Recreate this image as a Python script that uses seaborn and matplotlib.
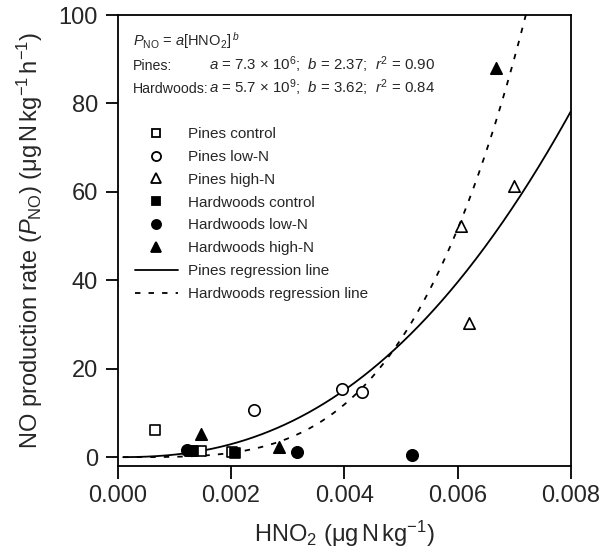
import numpy as np
import pandas as pd
import matplotlib
matplotlib.use("Agg")
import matplotlib.pyplot as plt
from matplotlib.lines import Line2D
import seaborn as sns

# ---------------- data ----------------
pines_control_x = [0.00066, 0.00148, 0.00202]
pines_control_y = [6.2, 1.4, 1.2]
pines_lown_x = [0.00241, 0.00396, 0.00432]
pines_lown_y = [10.7, 15.4, 14.7]
pines_highn_x = [0.00606, 0.00620, 0.00700]
pines_highn_y = [52.3, 30.4, 61.4]
hard_control_x = [0.00128, 0.00133, 0.00208]
hard_control_y = [1.4, 1.3, 0.9]
hard_lown_x = [0.00122, 0.00317, 0.00520]
hard_lown_y = [1.6, 1.2, 0.5]
hard_highn_x = [0.00147, 0.00285, 0.00667]
hard_highn_y = [5.3, 2.4, 88.0]

pines_a, pines_b = 7.3e6, 2.37
hard_a, hard_b = 5.7e9, 3.62

x_ticks = [0.000, 0.002, 0.004, 0.006, 0.008]
y_ticks = [0, 20, 40, 60, 80, 100]

# ---------------- style ----------------
sns.set_theme(style="ticks")
plt.rcParams['font.family'] = ['Liberation Sans', 'DejaVu Sans']
plt.rcParams['mathtext.fontset'] = 'custom'
plt.rcParams['mathtext.rm'] = 'Liberation Sans'
plt.rcParams['mathtext.it'] = 'Liberation Sans:italic'
plt.rcParams['mathtext.bf'] = 'Liberation Sans:bold'

fig = plt.figure(figsize=(6.1, 5.56), dpi=100)
W, H = 610, 556
ax = fig.add_axes([117.5 / W, 1 - 466 / H, (571 - 117.5) / W, (466 - 15) / H])

groups = [
    ("Pines control", pines_control_x, pines_control_y, "s", "white", 7.2),
    ("Pines low-N", pines_lown_x, pines_lown_y, "o", "white", 8.2),
    ("Pines high-N", pines_highn_x, pines_highn_y, "^", "white", 8.2),
    ("Hardwoods control", hard_control_x, hard_control_y, "s", "black", 7.2),
    ("Hardwoods low-N", hard_lown_x, hard_lown_y, "o", "black", 8.2),
    ("Hardwoods high-N", hard_highn_x, hard_highn_y, "^", "black", 8.2),
]

DASH = (0, (3.0, 4.5))

# regression lines
xx = np.linspace(0.0001, 0.008, 400)
reg = pd.DataFrame({"x": xx,
                    "pines": pines_a * xx ** pines_b,
                    "hard": hard_a * xx ** hard_b})
sns.lineplot(data=reg, x="x", y="pines", ax=ax, color="black", lw=1.3, zorder=2)
sns.lineplot(data=reg[reg["hard"] <= 102], x="x", y="hard", ax=ax, color="black",
             lw=1.3, linestyle=DASH, zorder=2)

handles = []
for name, gx, gy, m, fc, ms in groups:
    df = pd.DataFrame({"x": gx, "y": gy})
    sns.scatterplot(data=df, x="x", y="y", ax=ax, marker=m, s=ms ** 2,
                    facecolor=fc, edgecolor="black", linewidth=1.2, zorder=3)
    handles.append(Line2D([], [], marker=m, linestyle="none", markersize=ms * 0.8,
                          markerfacecolor=fc, markeredgecolor="black",
                          markeredgewidth=1.3, label=name))
handles.append(Line2D([], [], color="black", lw=1.3, label="Pines regression line"))
handles.append(Line2D([], [], color="black", lw=1.3, linestyle=DASH,
                      label="Hardwoods regression line"))

ax.set_xlim(0, 0.008)
ax.set_ylim(-2, 100)
ax.set_xticks(x_ticks)
ax.set_xticklabels([f"{v:.3f}" for v in x_ticks])
ax.set_yticks(y_ticks)
ax.set_yticklabels([str(v) for v in y_ticks])
ax.tick_params(axis="both", labelsize=17, length=9, width=1.3, color="black",
               direction="out", pad=5)
for sp in ax.spines.values():
    sp.set_visible(True)
    sp.set_linewidth(1.3)
    sp.set_color("black")

ax.set_xlabel(r"HNO$_2$ (μg$\,$N$\,$kg$^{-1}$)", fontsize=17, labelpad=8)
ax.set_ylabel(r"NO production rate ($P_{\mathrm{NO}}$) (μg$\,$N$\,$kg$^{-1}$$\,$h$^{-1}$)",
              fontsize=17, labelpad=10)

leg = ax.legend(handles=handles, loc="upper left",
                bbox_to_anchor=(135 / W, 1 - 127 / H), bbox_transform=fig.transFigure,
                frameon=False, fontsize=11, handlelength=2.8, handletextpad=0.7,
                labelspacing=0.58, borderpad=0, borderaxespad=0)

def ftxt(x, y, s, fs=10.2, **kw):
    fig.text(x / W, 1 - y / H, s, fontsize=fs, va="baseline", ha="left", **kw)

ftxt(133, 46, r"$P_{\mathrm{NO}}$ = $a$[HNO$_2$]$^{\;b}$", fs=10.5)
ftxt(133, 70, "Pines:")
ftxt(209, 70, r"$a$ = 7.3 × 10$^6$;  $b$ = 2.37;  $r^2$ = 0.90", fs=10.8)
ftxt(133, 93, "Hardwoods:")
ftxt(209, 93, r"$a$ = 5.7 × 10$^9$;  $b$ = 3.62;  $r^2$ = 0.84", fs=10.8)

fig.savefig("out.png", dpi=100)
